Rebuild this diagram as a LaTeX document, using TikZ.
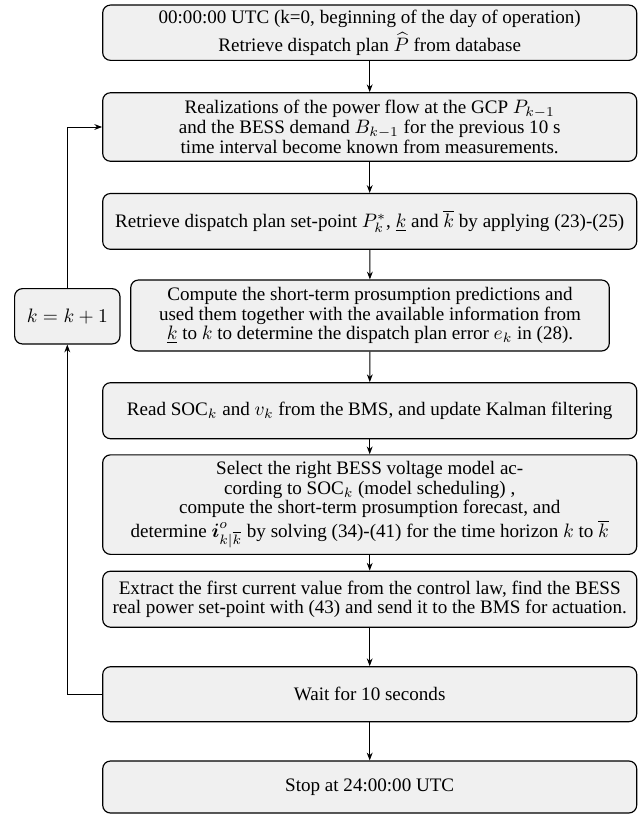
\documentclass[tikz,border=0pt]{standalone}
\usepackage{amsmath}
\usepackage{fontspec}
\setmainfont{Liberation Serif}
\usetikzlibrary{arrows.meta}
\definecolor{boxfill}{RGB}{240,240,240}
\begin{document}
\begin{tikzpicture}[x=0.514pt,y=-0.514pt,
  box/.style={draw, line width=0.6pt, rounded corners=4pt, fill=boxfill, align=center,
    inner xsep=1pt, inner ysep=0pt, font=\fontsize{9.8}{10.1}\selectfont},
  mbox/.style={box, minimum width=534*0.514pt},
  arr/.style={-{Stealth[length=4pt,width=3pt]}, line width=0.5pt}]
\useasboundingbox (0,0) rectangle (638,814);

\node[mbox, minimum height=55.3*0.514pt] (b1) at (369.7,32.7)
  {00:00:00 UTC (k=0, beginning of the day of operation)\\[1.5pt]
   Retrieve dispatch plan $\widehat{P}$ from database};
\node[mbox, minimum height=68.5*0.514pt] (b2) at (369.7,127)
  {Realizations of the power flow at the GCP $P_{k-1}$\\
   and the BESS demand $B_{k-1}$ for the previous 10 s\\
   time interval become known from measurements.};
\node[mbox, minimum height=55.8*0.514pt] (b3) at (369.7,221.4)
  {Retrieve dispatch plan set-point $P_k^*$, $\underline{k}$ and $\overline{k}$ by applying (23)-(25)};
\node[box, minimum width=478.6*0.514pt, minimum height=71*0.514pt] (b4) at (370,315.5)
  {Compute the short-term prosumption predictions and\\
   used them together with the available information from\\
   $\underline{k}$ to $k$ to determine the dispatch plan error $e_k$ in (28).};
\node[box, minimum width=105.3*0.514pt, minimum height=55.3*0.514pt] (kk) at (67.3,316.3)
  {$k=k+1$};
\node[mbox, minimum height=56*0.514pt] (b5) at (369.7,410.7)
  {Read SOC$_k$ and $v_k$ from the BMS, and update Kalman filtering};
\node[mbox, minimum height=99.5*0.514pt] (b6) at (369.7,504.6)
  {Select the right BESS voltage model ac-\\
   cording to SOC$_k$ (model scheduling) ,\\
   compute the short-term prosumption forecast, and\\
   determine $\boldsymbol{i}^o_{k|\overline{k}}$ by solving (34)-(41) for the time horizon $k$ to $\overline{k}$};
\node[mbox, minimum height=56*0.514pt] (b7) at (369.7,599.2)
  {Extract the first current value from the control law, find the BESS\\
   real power set-point with (43) and send it to the BMS for actuation.};
\node[mbox, minimum height=55*0.514pt] (b8) at (369.7,694.2)
  {Wait for 10 seconds};
\node[mbox, minimum height=52*0.514pt] (b9) at (369.7,787)
  {Stop at 24:00:00 UTC};

\draw[arr] (b1) -- (b2);
\draw[arr] (b2) -- (b3);
\draw[arr] (b3) -- (b4);
\draw[arr] (b4) -- (b5);
\draw[arr] (b5) -- (b6);
\draw[arr] (b6) -- (b7);
\draw[arr] (b7) -- (b8);
\draw[arr] (b8) -- (b9);
\draw[arr] (b8.west) -| (kk.south);
\draw[arr] (kk.north) |- (b2.west);
\end{tikzpicture}
\end{document}
